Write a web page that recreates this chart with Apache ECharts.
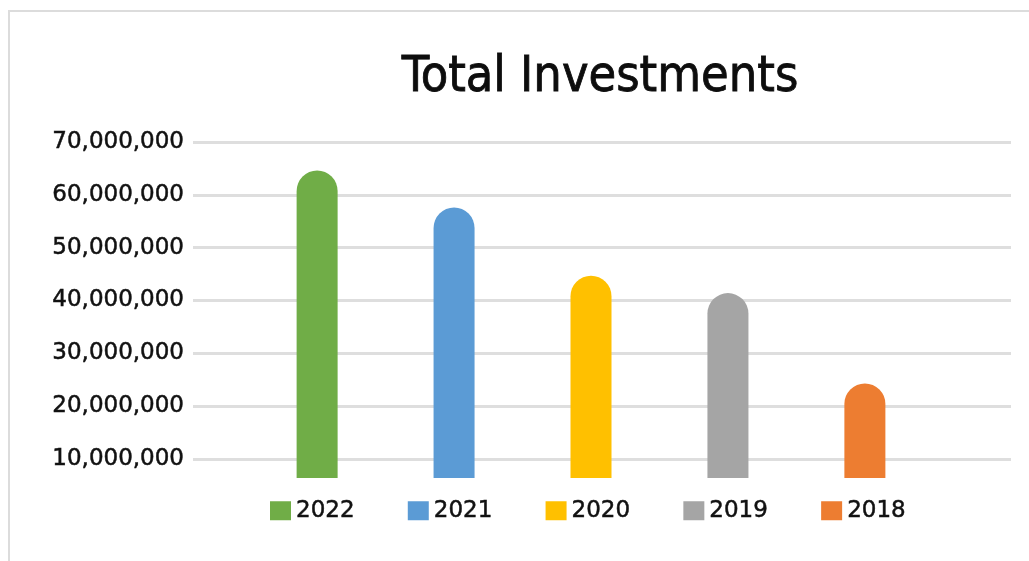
<!DOCTYPE html>
<html>
<head>
<meta charset="utf-8">
<script src="https://cdn.jsdelivr.net/npm/echarts@6/dist/echarts.min.js"></script>
<style>
  html, body { margin: 0; padding: 0; background: #ffffff; }
  #frame { position: absolute; left: 8px; top: 10px; width: 1100px; height: 620px; border: 2px solid #dcdcdc; box-sizing: border-box; }
  #chart { position: absolute; left: 0; top: 0; width: 1029px; height: 561px; }
</style>
</head>
<body>
<div id="frame"></div>
<div id="chart"></div>
<script>
const titleText = 'Total Investments';
const seriesNames = ['2022', '2021', '2020', '2019', '2018'];
const seriesValues = [64600000, 57600000, 44700000, 41400000, 24300000];
const seriesColors = ['#70AD47', '#5B9BD5', '#FFC000', '#A5A5A5', '#ED7D31'];
const categories = ['Total Investments'];
const yTicks = [10000000, 20000000, 30000000, 40000000, 50000000, 60000000, 70000000];
const yMin = 6400000;
const yMax = 70000000;

const FONT = 'DejaVu Sans';
const chart = echarts.init(document.getElementById('chart'), null, { renderer: 'canvas' });

const fmt = v => (Math.round(v) % 10000000 === 0) ? Math.round(v).toLocaleString('en-US') : '';

const option = {
  backgroundColor: 'transparent',
  animation: false,
  title: {
    text: titleText,
    left: 595,
    textAlign: 'center',
    top: 48,
    textStyle: { fontFamily: 'DejaVu Sans Condensed, Liberation Sans Narrow, DejaVu Sans', fontSize: 50, fontWeight: 'normal', color: '#0d0d0d', textBorderColor: '#0d0d0d', textBorderWidth: 0.8 }
  },
  legend: {
    data: seriesNames,
    left: 270,
    top: 499,
    padding: 0,
    icon: 'rect',
    itemWidth: 21,
    itemHeight: 19,
    itemGap: 53,
    textStyle: { fontFamily: FONT, fontSize: 23, color: '#111111', textBorderColor: '#111111', textBorderWidth: 0.5 }
  },
  grid: [
    { left: 193, right: 18, top: 142, bottom: 83 },
    { left: 171, right: 18, top: 142, bottom: 83 }
  ],
  xAxis: [
    { type: 'category', gridIndex: 0, data: categories, show: false },
    { type: 'category', gridIndex: 1, data: categories, show: false }
  ],
  yAxis: [
    {
      type: 'value', gridIndex: 0, min: yMin, max: yMax, splitNumber: 7,
      axisLine: { show: false }, axisTick: { show: false, customValues: yTicks },
      axisLabel: { customValues: yTicks, formatter: fmt, margin: 9, fontFamily: FONT, fontSize: 23, color: '#111111', textBorderColor: '#111111', textBorderWidth: 0.5 },
      splitLine: { show: true, showMinLine: true, lineStyle: { color: '#dedede', width: 3 } }
    },
    {
      type: 'value', gridIndex: 1, min: yMin, max: yMax, show: false,
      splitLine: { show: false }
    }
  ],
  series: seriesNames.map((name, i) => ({
    name: name,
    type: 'bar',
    xAxisIndex: 1,
    yAxisIndex: 1,
    data: [seriesValues[i]],
    barWidth: 41,
    barGap: '234%',
    itemStyle: { color: seriesColors[i], borderRadius: [20.5, 20.5, 0, 0] }
  }))
};
chart.setOption(option);
</script>
</body>
</html>
